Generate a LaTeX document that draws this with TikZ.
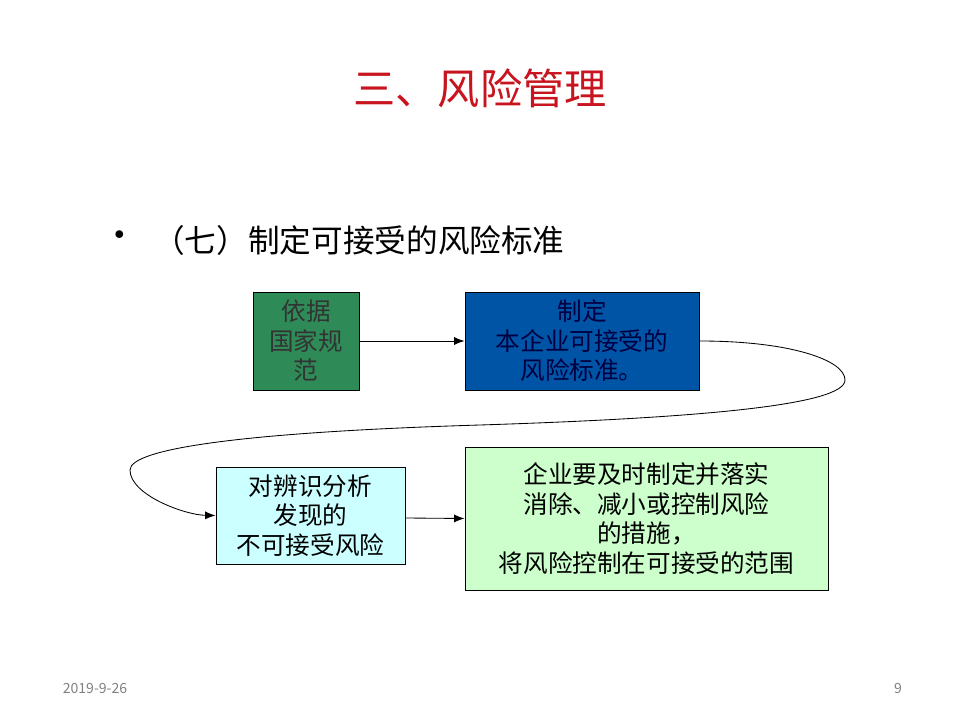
\documentclass[tikz,border=0pt]{standalone}
\usepackage{fontspec}
\setmainfont{Noto Sans CJK SC}
\usepackage{tikz}
\usetikzlibrary{arrows.meta,positioning}
\definecolor{seagr}{RGB}{46,139,87}
\definecolor{stdblue}{RGB}{0,84,166}
\definecolor{riskcyan}{RGB}{204,255,255}
\definecolor{actgreen}{RGB}{204,255,204}
\definecolor{titlered}{RGB}{200,20,30}
\tikzset{
  stepbox/.style={draw, line width=0.6pt, align=center, inner sep=2pt,
                  font=\fontsize{17.5}{21}\selectfont},
  flow/.style={-{Latex[length=2.6mm,width=2mm]}, line width=0.6pt},
}

\begin{document}
\begin{tikzpicture}[x=0.025cm, y=-0.025cm]
\useasboundingbox (0,0) rectangle (960,720);

\node[text=titlered, font=\fontsize{30}{34}\selectfont] (title) at (480,88) {三、风险管理};
\node[font=\fontsize{26}{30}\selectfont] (dot) at (120,240) {•};
\node[font=\fontsize{22.5}{26}\selectfont, anchor=west, inner sep=0pt] (topic) at (153,240)
  {（七）制定可接受的风险标准};

\node[stepbox, fill=seagr, text=black!80, minimum width=2.65cm, minimum height=2.45cm]
  (basis) at (306,341) {依据\\国家规\\范};
\node[stepbox, fill=stdblue, text=blue!25!black, minimum width=5.85cm, minimum height=2.45cm]
  (std) at (582,341) {制定\\本企业可接受的\\风险标准。};
\node[stepbox, fill=riskcyan, minimum width=4.725cm, minimum height=2.425cm]
  (risk) at (310.5,515.5) {对辨识分析\\发现的\\不可接受风险};
\node[stepbox, fill=actgreen, minimum width=9.075cm, minimum height=3.575cm]
  (act) at (646.5,518.5) {企业要及时制定并落实\\消除、减小或控制风险\\的措施，\\将风险控制在可接受的范围};

\draw[flow] (basis) -- (std);
\draw[flow] (std.east) .. controls (790,341) and (845,360) .. (845,380)
  .. controls (845,405) and (700,418) .. (480,425)
  .. controls (250,432) and (130,448) .. (130,470)
  .. controls (130,495) and (185,515) .. (risk.west);
\draw[flow] (risk.east |- 0,518) -- (act.west);

\node[text=black!50, font=\fontsize{10}{12}\selectfont] (date) at (95,688) {2019-9-26};
\node[text=black!50, font=\fontsize{10}{12}\selectfont] (page) at (898,688) {9};

\end{tikzpicture}
\end{document}
